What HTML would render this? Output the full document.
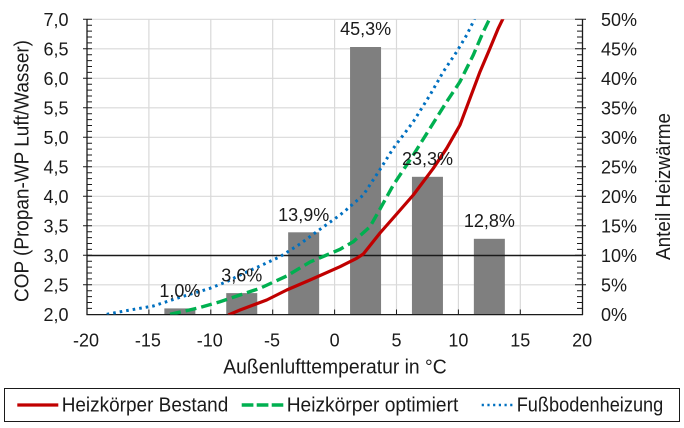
<!DOCTYPE html>
<html><head><meta charset="utf-8"><style>
html,body{margin:0;padding:0;background:#fff;}
svg{display:block;}
text{font-family:"Liberation Sans",Arial,sans-serif;fill:#1a1a1a;}
</style></head><body>
<svg width="684" height="428" viewBox="0 0 684 428" xmlns="http://www.w3.org/2000/svg">
<defs><clipPath id="pa"><rect x="87" y="19.3" width="495.5" height="295.2"/></clipPath></defs>
<!-- grid -->
<g stroke="#d9d9d9" stroke-width="1.2">
<line x1="87" y1="19.3" x2="582.5" y2="19.3"/>
<line x1="87" y1="48.8" x2="582.5" y2="48.8"/>
<line x1="87" y1="78.3" x2="582.5" y2="78.3"/>
<line x1="87" y1="107.8" x2="582.5" y2="107.8"/>
<line x1="87" y1="137.3" x2="582.5" y2="137.3"/>
<line x1="87" y1="166.8" x2="582.5" y2="166.8"/>
<line x1="87" y1="196.3" x2="582.5" y2="196.3"/>
<line x1="87" y1="225.8" x2="582.5" y2="225.8"/>
<line x1="87" y1="284.8" x2="582.5" y2="284.8"/>
<line x1="148.9" y1="19.3" x2="148.9" y2="314.3"/>
<line x1="210.8" y1="19.3" x2="210.8" y2="314.3"/>
<line x1="272.7" y1="19.3" x2="272.7" y2="314.3"/>
<line x1="334.6" y1="19.3" x2="334.6" y2="314.3"/>
<line x1="396.5" y1="19.3" x2="396.5" y2="314.3"/>
<line x1="458.4" y1="19.3" x2="458.4" y2="314.3"/>
<line x1="520.3" y1="19.3" x2="520.3" y2="314.3"/>
</g>
<!-- bars -->
<g fill="#7f7f7f">
<rect x="164.35" y="308.4" width="31" height="5.9"/>
<rect x="226.25" y="293.1" width="31" height="21.2"/>
<rect x="288.15" y="232.3" width="31" height="82"/>
<rect x="350.05" y="47" width="31" height="267.3"/>
<rect x="411.95" y="176.8" width="31" height="137.5"/>
<rect x="473.85" y="238.8" width="31" height="75.5"/>
</g>
<!-- COP 3 line -->
<line x1="87" y1="255.5" x2="582.5" y2="255.5" stroke="#1a1a1a" stroke-width="1.6"/>
<!-- axes -->
<g stroke="#1a1a1a" stroke-width="1.3">
<line x1="87" y1="19" x2="87" y2="315"/>
<line x1="582.5" y1="19" x2="582.5" y2="315"/>
<line x1="86.5" y1="314.6" x2="583" y2="314.6"/>
</g>
<g stroke="#1a1a1a" stroke-width="1" id="lt">
<path d="M87 25.2h5M87 31.1h5M87 37h5M87 42.9h5M87 54.7h5M87 60.6h5M87 66.5h5M87 72.4h5M87 84.2h5M87 90.1h5M87 96h5M87 101.9h5M87 113.7h5M87 119.6h5M87 125.5h5M87 131.4h5M87 143.2h5M87 149.1h5M87 155h5M87 160.9h5M87 172.7h5M87 178.6h5M87 184.5h5M87 190.4h5M87 202.2h5M87 208.1h5M87 214h5M87 219.9h5M87 231.7h5M87 237.6h5M87 243.5h5M87 249.4h5M87 261.2h5M87 267.1h5M87 273h5M87 278.9h5M87 290.7h5M87 296.6h5M87 302.5h5M87 308.4h5"/>
<path d="M83 19.3h9M83 48.8h9M83 78.3h9M83 107.8h9M83 137.3h9M83 166.8h9M83 196.3h9M83 225.8h9M83 255.3h9M83 284.8h9"/>
</g>
<g stroke="#1a1a1a" stroke-width="1">
<path d="M577 25.2h5.5M577 31.1h5.5M577 37h5.5M577 42.9h5.5M577 54.7h5.5M577 60.6h5.5M577 66.5h5.5M577 72.4h5.5M577 84.2h5.5M577 90.1h5.5M577 96h5.5M577 101.9h5.5M577 113.7h5.5M577 119.6h5.5M577 125.5h5.5M577 131.4h5.5M577 143.2h5.5M577 149.1h5.5M577 155h5.5M577 160.9h5.5M577 172.7h5.5M577 178.6h5.5M577 184.5h5.5M577 190.4h5.5M577 202.2h5.5M577 208.1h5.5M577 214h5.5M577 219.9h5.5M577 231.7h5.5M577 237.6h5.5M577 243.5h5.5M577 249.4h5.5M577 261.2h5.5M577 267.1h5.5M577 273h5.5M577 278.9h5.5M577 290.7h5.5M577 296.6h5.5M577 302.5h5.5M577 308.4h5.5"/>
<path d="M575 19.3h11M575 48.8h11M575 78.3h11M575 107.8h11M575 137.3h11M575 166.8h11M575 196.3h11M575 225.8h11M575 255.3h11M575 284.8h11"/>
<path d="M148.9 314.5v-5M210.8 314.5v-5M272.7 314.5v-5M334.6 314.5v-5M396.5 314.5v-5M458.4 314.5v-5M520.3 314.5v-5"/>
</g>
<!-- curves -->
<g clip-path="url(#pa)" fill="none">
<polyline stroke="#c00000" stroke-width="3.2" stroke-linejoin="round" points="228.3,315 240,310 253.3,305 266.7,300 286.7,290 310,280 340,266.7 356.7,258.3 363.3,254 380,233 396.7,214 413.3,195 433.3,168.3 446.7,148.3 460,125 470,98.3 480,71.7 490,48.3 498.3,28.3 503.3,18"/>
<polyline stroke="#00b050" stroke-width="3.4" stroke-dasharray="11 5" points="170,314.3 185,311 200,307.5 220,301.7 240,295 260,288.3 286.7,276 310,262 326.7,255 340,249.3 353.3,241.7 370,226.7 380,209 393.3,185 413.3,155 430,128.3 446.7,101.7 460,81.7 473.3,55 483.3,31.7 490,18"/>
<polyline stroke="#0070c0" stroke-width="3" stroke-dasharray="2.6 4" points="106.7,314.3 130,310 153.3,306 180,297.3 210,288.3 226.7,281.7 240,275 260,266 280,256.7 300,244 316.7,231.7 340,215 346.7,209.5 363.3,195 380,169.5 393.3,148.3 403.3,135 413.3,121.7 430,95 443.3,71.7 456.7,51.7 466.7,35 473.3,21.7 474.8,18"/>
</g>
<!-- bar labels -->
<g font-size="18" text-anchor="middle">
<text x="179.9" y="297">1,0%</text>
<text x="241.8" y="281.7">3,6%</text>
<text x="303.7" y="221">13,9%</text>
<text x="365.6" y="35">45,3%</text>
<text x="427.5" y="165">23,3%</text>
<text x="489.4" y="227">12,8%</text>
</g>
<!-- left tick labels -->
<g font-size="18" text-anchor="end">
<text x="68.5" y="26">7,0</text>
<text x="68.5" y="55.5">6,5</text>
<text x="68.5" y="85">6,0</text>
<text x="68.5" y="114.5">5,5</text>
<text x="68.5" y="144">5,0</text>
<text x="68.5" y="173.5">4,5</text>
<text x="68.5" y="203">4,0</text>
<text x="68.5" y="232.5">3,5</text>
<text x="68.5" y="262">3,0</text>
<text x="68.5" y="291.5">2,5</text>
<text x="68.5" y="321">2,0</text>
</g>
<!-- right tick labels -->
<g font-size="18">
<text x="601" y="26">50%</text>
<text x="601" y="55.5">45%</text>
<text x="601" y="85">40%</text>
<text x="601" y="114.5">35%</text>
<text x="601" y="144">30%</text>
<text x="601" y="173.5">25%</text>
<text x="601" y="203">20%</text>
<text x="601" y="232.5">15%</text>
<text x="601" y="262">10%</text>
<text x="601" y="291.5">5%</text>
<text x="601" y="321">0%</text>
</g>
<!-- x tick labels -->
<g font-size="18" text-anchor="middle">
<text x="86" y="346.7">-20</text>
<text x="147.9" y="346.7">-15</text>
<text x="209.8" y="346.7">-10</text>
<text x="272" y="346.7">-5</text>
<text x="334.6" y="346.7">0</text>
<text x="396.5" y="346.7">5</text>
<text x="458.4" y="346.7">10</text>
<text x="520.3" y="346.7">15</text>
<text x="582.2" y="346.7">20</text>
</g>
<!-- axis titles -->
<text x="223.3" y="373.3" font-size="20" textLength="223.4" lengthAdjust="spacingAndGlyphs">Außenlufttemperatur in °C</text>
<text transform="translate(28.5,302) rotate(-90)" x="0" y="0" font-size="20" textLength="262" lengthAdjust="spacingAndGlyphs">COP (Propan-WP Luft/Wasser)</text>
<text transform="translate(670,260) rotate(-90)" x="0" y="0" font-size="20" textLength="147" lengthAdjust="spacingAndGlyphs">Anteil Heizwärme</text>
<!-- legend -->
<rect x="4.5" y="388.5" width="675" height="33" fill="none" stroke="#1a1a1a" stroke-width="1"/>
<line x1="17.3" y1="405" x2="58.3" y2="405" stroke="#c00000" stroke-width="3.2"/>
<text x="61.7" y="411.7" font-size="20" textLength="166.6" lengthAdjust="spacingAndGlyphs">Heizkörper Bestand</text>
<line x1="241.7" y1="405" x2="283.3" y2="405" stroke="#00b050" stroke-width="3.4" stroke-dasharray="11.7 3.3"/>
<text x="286.7" y="411.7" font-size="20" textLength="171.6" lengthAdjust="spacingAndGlyphs">Heizkörper optimiert</text>
<line x1="481.7" y1="405" x2="515" y2="405" stroke="#0070c0" stroke-width="2.6" stroke-dasharray="2.2 3.5"/>
<text x="516.7" y="411.7" font-size="20" textLength="146.6" lengthAdjust="spacingAndGlyphs">Fußbodenheizung</text>
</svg>
</body></html>
